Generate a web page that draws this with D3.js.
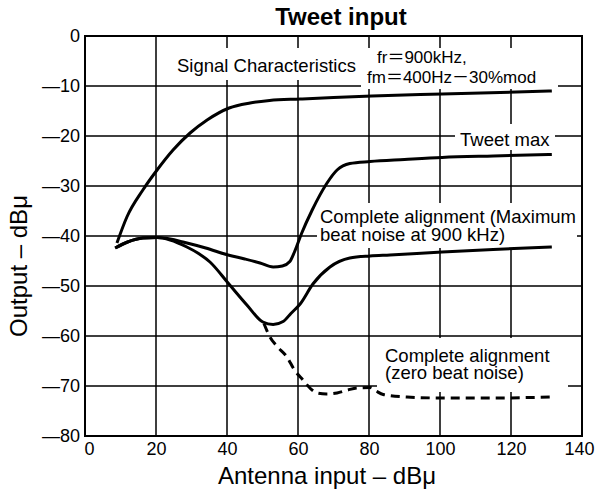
<!DOCTYPE html>
<html>
<head>
<meta charset="utf-8">
<script src="https://cdn.jsdelivr.net/npm/d3@7"></script>
<style>
  html, body { margin: 0; padding: 0; background: #fff; }
  svg { display: block; background: #fff; }
</style>
</head>
<body>
<div id="chart"></div>
<script>
// ---------------- data ----------------
const title = "Tweet input";
const xLabel = "Antenna input – dBμ";
const yLabel = "Output – dBμ";
const xTicks = [0, 20, 40, 60, 80, 100, 120, 140];
const yTicks = [0, -10, -20, -30, -40, -50, -60, -70, -80];

// Signal characteristics curve
const signalX = [9, 11.8, 16.3, 20.3, 24.8, 29.6, 34.4, 40.6, 46.5, 52, 60.6, 70, 80.8, 100.6, 131.5];
const signalY = [-41.4, -36.2, -30.8, -26.8, -22.8, -19.4, -16.8, -14.4, -13.4, -12.9, -12.6, -12.3, -12, -11.6, -11];

// Tweet max curve
const tweetX = [8.5, 12, 16.3, 20.3, 24, 27.6, 34, 40.3, 45, 49.3, 53, 55.6, 57.7, 59, 61, 64, 68, 71, 74.6, 80.3, 90, 100.6, 115, 131.5];
const tweetY = [-42.4, -41.2, -40.4, -40.3, -40.6, -41.2, -42.4, -43.8, -44.6, -45.4, -46.2, -46, -45.1, -43.2, -39.5, -34.8, -29.6, -26.8, -25.5, -25.1, -24.7, -24.3, -24, -23.7];

// Complete alignment (maximum beat noise at 900 kHz)
const maxBeatX = [8.5, 12, 16.3, 20.3, 24, 28.7, 32, 35.2, 40.3, 45.6, 50.1, 53, 55.8, 58, 60.6, 64.2, 69, 74.6, 80.3, 85.9, 100.6, 115, 131.5];
const maxBeatY = [-42.4, -41.2, -40.4, -40.3, -40.8, -42.2, -43.5, -45.2, -49.4, -53.8, -57.2, -57.7, -57.1, -55.5, -53.6, -49.6, -46.2, -44.4, -44, -43.8, -43.2, -42.7, -42.2];

// Complete alignment (zero beat noise), dashed
const zeroBeatX = [50.4, 52.1, 54, 56.9, 59, 61.4, 63.5, 65.4, 68, 71, 74, 76.6, 80.3, 82, 84, 90.7, 100.6, 115, 131.5];
const zeroBeatY = [-57.5, -60.2, -62, -64.2, -66.8, -68.8, -70.5, -71.4, -71.6, -71.4, -70.8, -70.4, -70.3, -71, -71.7, -72.2, -72.4, -72.4, -72.2];

// ---------------- layout ----------------
const W = 595, H = 490;
const FONT = "'Liberation Sans', Arial, Helvetica, 'Noto Sans CJK JP', sans-serif";

const svg = d3.select("#chart").append("svg")
  .attr("width", W).attr("height", H);

const x = d3.scaleLinear().domain([0, 140]).range([85, 582]);
const y = d3.scaleLinear().domain([0, -80]).range([36, 436]);
const plotW = x(140) - x(0), plotH = y(-80) - y(0);

// grid + frame as one path built from the scales
const gp = d3.path();
gp.rect(x(0), y(0), plotW, plotH);
xTicks.forEach(d => { gp.moveTo(x(d), y(0)); gp.lineTo(x(d), y(-80)); });
yTicks.forEach(d => { gp.moveTo(x(0), y(d)); gp.lineTo(x(140), y(d)); });
svg.append("path").attr("class", "chart-body")
  .attr("d", gp.toString())
  .attr("fill", "none").attr("stroke", "#000").attr("stroke-width", 1.5);

// white boxes behind annotation texts (they interrupt the grid)
const boxes = [
  [172, 48, 188, 32],   // Signal Characteristics
  [361, 48, 197, 41],   // fr / fm
  [455, 124, 100, 26],  // Tweet max
  [317, 203, 260, 45],  // Complete alignment (Maximum ...
  [377, 338, 191, 54]   // Complete alignment (zero ...
];
svg.append("g").attr("fill", "#fff").selectAll("rect").data(boxes).join("rect")
  .attr("x", d => d[0]).attr("y", d => d[1]).attr("width", d => d[2]).attr("height", d => d[3]);

// axes (labels)
const gx = svg.append("g")
  .attr("transform", `translate(0,${y(-80)})`)
  .call(d3.axisBottom(x).tickValues(xTicks).tickSize(0).tickPadding(6)
    .tickFormat(d => String(d)));
gx.select(".domain").remove();
gx.selectAll(".tick line").remove();
gx.selectAll(".tick text").attr("font-size", 18).attr("font-family", FONT).attr("fill", "#000")
  .attr("dx", d => d === 0 ? 4 : (d === 140 ? -3 : 0));

const gy = svg.append("g")
  .attr("transform", `translate(${x(0)},0)`)
  .call(d3.axisLeft(y).tickValues(yTicks).tickSize(0).tickPadding(5)
    .tickFormat(d => d === 0 ? "0" : "—" + Math.abs(d)));
gy.select(".domain").remove();
gy.selectAll(".tick line").remove();
gy.selectAll(".tick text").attr("font-size", 18).attr("font-family", FONT).attr("fill", "#000");

// frame
svg.append("path")
  .attr("d", `M${x(0)},${y(0)}H${x(140)}V${y(-80)}H${x(0)}Z`)
  .attr("fill", "none").attr("stroke", "#000").attr("stroke-width", 2);

// curves
const lineGen = d3.line().x(d => x(d[0])).y(d => y(d[1])).curve(d3.curveMonotoneX);
const zip = (a, b) => a.map((v, i) => [v, b[i]]);

const series = [
  { pts: zip(signalX, signalY), dash: null },
  { pts: zip(tweetX, tweetY), dash: null },
  { pts: zip(maxBeatX, maxBeatY), dash: null },
  { pts: zip(zeroBeatX, zeroBeatY), dash: "9,6" }
];
svg.append("g").selectAll("path").data(series).join("path")
  .attr("d", d => lineGen(d.pts))
  .attr("fill", "none").attr("stroke", "#000").attr("stroke-width", 3)
  .attr("stroke-linecap", "butt").attr("stroke-linejoin", "round")
  .attr("stroke-dasharray", d => d.dash);

// annotations
const ann = svg.append("g").attr("font-family", FONT).attr("fill", "#000");
const texts = [
  { t: "Signal Characteristics", x: 177, y: 72, s: 18.5 },
  { t: "fr＝900kHz,", x: 377, y: 63, s: 17 },
  { t: "fm＝400Hz－30%mod", x: 367, y: 83, s: 17 },
  { t: "Tweet max", x: 460, y: 146, s: 18.5 },
  { t: "Complete alignment (Maximum", x: 320, y: 223, s: 18.5 },
  { t: "beat noise at 900 kHz)", x: 320, y: 241, s: 18.5 },
  { t: "Complete alignment", x: 385, y: 362, s: 18.5 },
  { t: "(zero beat noise)", x: 385, y: 379, s: 18.5 }
];
ann.selectAll("text").data(texts).join("text")
  .attr("x", d => d.x).attr("y", d => d.y).attr("font-size", d => d.s)
  .text(d => d.t);

// title and axis titles
svg.append("text").attr("x", 341).attr("y", 25).attr("text-anchor", "middle")
  .attr("font-family", FONT).attr("font-weight", "bold").attr("font-size", 24).text(title);
svg.append("text").attr("x", 327).attr("y", 484).attr("text-anchor", "middle")
  .attr("font-family", FONT).attr("font-size", 24).text(xLabel);
svg.append("text").attr("transform", "translate(27,266) rotate(-90)").attr("text-anchor", "middle")
  .attr("font-family", FONT).attr("font-size", 24).text(yLabel);
</script>
</body>
</html>
